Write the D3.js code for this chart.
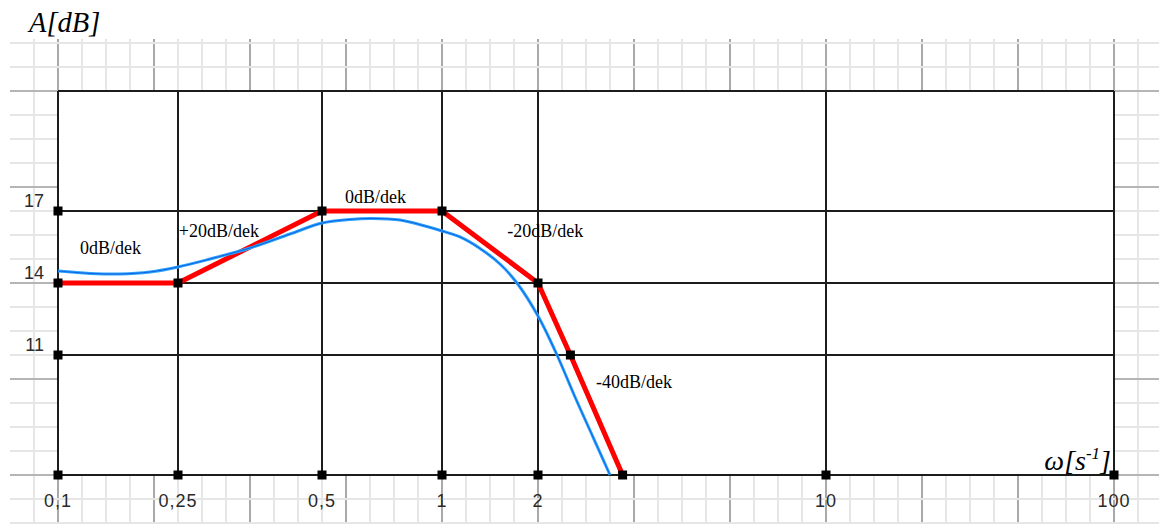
<!DOCTYPE html>
<meta charset="utf-8" />
<script src="https://d3js.org/d3.v7.min.js"></script>
<style>
  body { margin: 0; background: #fff; }
</style>
<body>
<div id="my_dataviz"></div>
<script>
  // frequency ticks (non uniform paper scale) and labels
  var xTicks = [0.1, 0.25, 0.5, 1, 2, 10, 100];
  var xTickLabels = ["0,1", "0,25", "0,5", "1", "2", "10", "100"];
  // amplitude ticks
  var yTicks = [11, 14, 17];
  var yGrid = [0, 11, 14, 17, 22];

  // asymptotic (broken line) characteristic
  var asymW = [0.1, 0.25, 0.5, 1, 2, 2.9, 4.35];
  var asymA = [14, 14, 17, 17, 14, 11, 0];

  var realW = [0.1, 0.14, 0.1775, 0.215, 0.25, 0.3056, 0.375, 0.4444, 0.5, 0.6167, 0.7083, 0.825, 0.9292, 1.0, 1.1875, 1.396, 1.604, 1.781, 2.0, 2.528, 3.028, 3.528, 4.0];
  var realA = [14.5, 14.4, 14.375, 14.46, 14.67, 15.0, 15.46, 16.04, 16.5, 16.65, 16.69, 16.625, 16.375, 16.167, 15.917, 15.438, 14.792, 14.0, 12.625, 11.0, 7.15, 3.48, 0];

  // extra markers on the axes
  var markW = [0.1, 0.1, 0.1, 0.25, 0.5, 1, 2, 10, 100];
  var markA = [17, 11, 0, 0, 0, 0, 0, 0, 0];

  // slope annotations
  var noteText = ["0dB/dek", "+20dB/dek", "0dB/dek", "-20dB/dek", "-40dB/dek"];
  var noteW = [0.1275, 0.2515, 0.596, 1.68, 3.61];
  var noteA = [15.2, 15.92, 17.33, 15.92, 7.98];

  var width = 1159, height = 524;

  var x = d3.scaleLinear()
    .domain(xTicks)
    .range([58, 178, 322, 442, 538, 826, 1114]);
  var y = d3.scaleLinear()
    .domain(yGrid)
    .range([475, 355, 283, 211, 91]);

  var svg = d3.select("#my_dataviz")
    .append("svg")
    .attr("width", width)
    .attr("height", height);

  // squared paper behind the chart
  var paper = svg.append("g");
  var step = 24;
  paper.selectAll("line.vf")
    .data(d3.range(x(0.1) - step, width, step))
    .enter().append("line")
    .attr("x1", d => d).attr("x2", d => d)
    .attr("y1", 39).attr("y2", height)
    .attr("stroke", (d, i) => (i % 4 == 1 ? "#a9a9a9" : "#e6e6e6"))
    .attr("stroke-width", 2);
  paper.selectAll("line.hf")
    .data(d3.range(y(22) - 2 * step, height, step))
    .enter().append("line")
    .attr("y1", d => d).attr("y2", d => d)
    .attr("x1", 10).attr("x2", width)
    .attr("stroke", (d, i) => (i % 4 == 2 ? "#b5b5b5" : "#e6e6e6"))
    .attr("stroke-width", 2);

  // white plot area
  svg.append("rect")
    .attr("x", x(0.1)).attr("y", y(22))
    .attr("width", x(100) - x(0.1))
    .attr("height", y(0) - y(22))
    .attr("fill", "white");

  // black main grid
  svg.append("g").selectAll("line")
    .data(xTicks)
    .enter().append("line")
    .attr("x1", d => x(d)).attr("x2", d => x(d))
    .attr("y1", y(22)).attr("y2", y(0))
    .attr("stroke", "#1c1c1c")
    .attr("stroke-width", 2);
  svg.append("g").selectAll("line")
    .data(yGrid)
    .enter().append("line")
    .attr("y1", d => y(d)).attr("y2", d => y(d))
    .attr("x1", x(0.1)).attr("x2", x(100))
    .attr("stroke", "#1c1c1c")
    .attr("stroke-width", 2);

  // tick labels
  svg.append("g").selectAll("text")
    .data(yTicks)
    .enter().append("text")
    .attr("x", x(0.1) - 14)
    .attr("y", d => y(d) - 4)
    .attr("text-anchor", "end")
    .attr("font-family", "Liberation Sans, Arial")
    .attr("font-size", "18px")
    .attr("fill", "#2a2a2a")
    .text(d => d);
  svg.append("g").selectAll("text")
    .data(xTicks)
    .enter().append("text")
    .attr("x", d => x(d))
    .attr("y", y(0) + 32)
    .attr("text-anchor", "middle")
    .attr("font-family", "Liberation Sans, Arial")
    .attr("font-size", "18px")
    .attr("letter-spacing", "1px")
    .attr("fill", "#2a2a2a")
    .text((d, i) => xTickLabels[i]);

  // asymptotes (red)
  var line = d3.line()
    .x(d => x(d[0]))
    .y(d => y(d[1]));
  svg.append("path")
    .datum(asymW.map((w, i) => [w, asymA[i]]))
    .attr("d", line)
    .attr("fill", "none")
    .attr("stroke", "#ff0000")
    .attr("stroke-width", 5);

  // real curve (blue)
  var curve = d3.line()
    .x(d => x(d[0]))
    .y(d => y(d[1]))
    .curve(d3.curveCatmullRom.alpha(0.5));
  var realData = realW.map((w, i) => [w, realA[i]]);
  svg.append("path")
    .datum(realData)
    .attr("d", curve)
    .attr("fill", "none")
    .attr("stroke", "#2ea3ff")
    .attr("stroke-width", 3);
  svg.append("path")
    .datum(realData)
    .attr("d", curve)
    .attr("fill", "none")
    .attr("stroke", "#0b62e0")
    .attr("stroke-width", 1);

  // square markers
  var sq = 9;
  var marks = asymW.map((w, i) => [w, asymA[i]])
    .concat(markW.map((w, i) => [w, markA[i]]));
  svg.append("g").selectAll("rect")
    .data(marks)
    .enter().append("rect")
    .attr("x", d => x(d[0]) - sq / 2)
    .attr("y", d => y(d[1]) - sq / 2)
    .attr("width", sq).attr("height", sq)
    .attr("fill", "black");

  // slope annotations
  svg.append("g").selectAll("text")
    .data(noteText)
    .enter().append("text")
    .attr("x", (d, i) => x(noteW[i]))
    .attr("y", (d, i) => y(noteA[i]))
    .attr("font-family", "Liberation Serif, Times New Roman")
    .attr("font-size", "18px")
    .attr("fill", "black")
    .text(d => d);

  // axis titles
  svg.append("text")
    .attr("x", 29).attr("y", 32)
    .attr("font-family", "Liberation Serif, Times New Roman")
    .attr("font-style", "italic")
    .attr("font-size", "28.5px")
    .text("A[dB]");
  var wt = svg.append("text")
    .attr("x", x(100) - 3).attr("y", y(0) - 5)
    .attr("text-anchor", "end")
    .attr("font-family", "Liberation Serif, Times New Roman")
    .attr("font-style", "italic")
    .attr("font-size", "28px");
  wt.append("tspan").text("ω[s");
  wt.append("tspan").attr("dy", -11).attr("font-size", "17px").text("-1");
  wt.append("tspan").attr("dy", 11).text("]");
</script>
</body>
